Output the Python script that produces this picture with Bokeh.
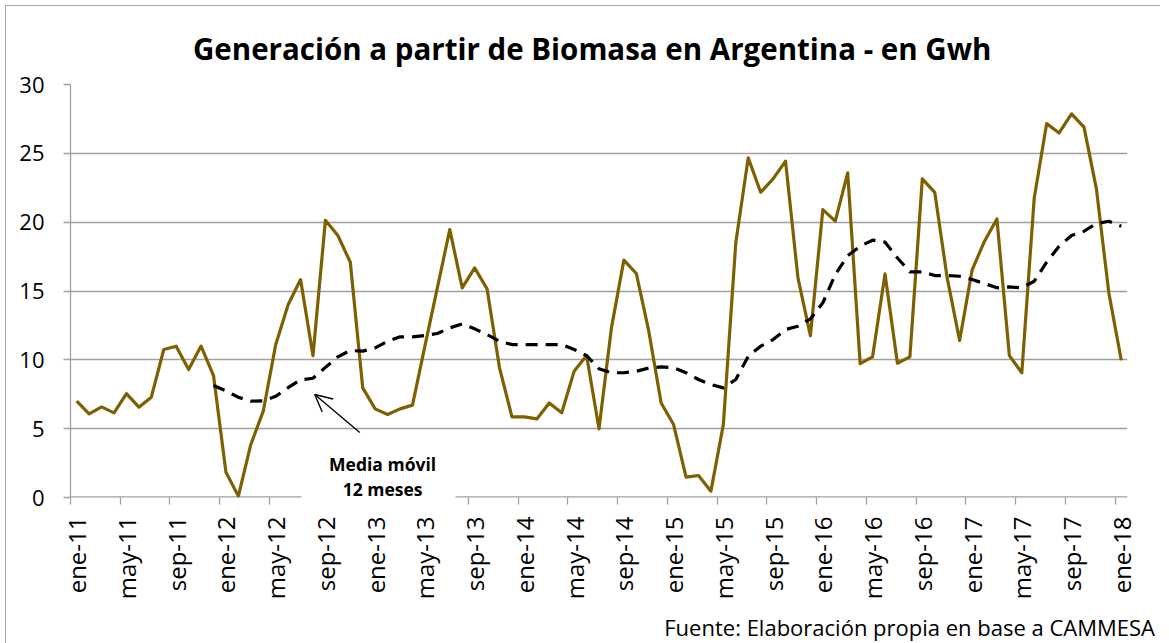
from bokeh.plotting import figure
from bokeh.models import FixedTicker, Label, Arrow, OpenHead, ColumnDataSource, Title
from bokeh.embed import file_html
from bokeh.resources import INLINE

# ---------------- data ----------------
months = list(range(85))  # ene-11 ... ene-18, monthly index
generation = [
    7.0, 6.08, 6.58, 6.15, 7.55, 6.56, 7.29, 10.75, 10.99, 9.3, 11.0, 8.86,
    1.84, 0.1, 3.85, 6.27, 11.1, 14.0, 15.83, 10.3, 20.14, 19.03, 17.09, 7.96,
    6.44, 6.03, 6.44, 6.71, 10.99, 15.23, 19.46, 15.23, 16.68, 15.15, 9.42, 5.86,
    5.86, 5.71, 6.87, 6.15, 9.17, 10.31, 4.99, 12.32, 17.24, 16.27, 12.1, 6.87,
    5.3, 1.48, 1.6, 0.46, 5.3, 18.5, 24.67, 22.17, 23.14, 24.43, 15.95, 11.76,
    20.91, 20.07, 23.58, 9.73, 10.22, 16.24, 9.75, 10.22, 23.14, 22.17, 15.95, 11.4,
    16.51, 18.62, 20.23, 10.31, 9.06, 21.76, 27.16, 26.48, 27.86, 26.9, 22.42, 14.86,
    9.97,
]
ma_months = list(range(11, 85))
moving_avg = [
    8.13, 7.74, 7.28, 7.0, 7.02, 7.35, 7.98, 8.55, 8.66, 9.45, 10.22, 10.68,
    10.63, 10.87, 11.35, 11.67, 11.67, 11.76, 11.91, 12.32, 12.61, 12.25, 11.84, 11.35,
    11.11, 11.11, 11.11, 11.11, 11.11, 10.75, 10.31, 9.35, 9.06, 9.06, 9.17, 9.4,
    9.49, 9.42, 9.06, 8.57, 8.2, 7.96, 8.57, 10.26, 10.99, 11.47, 12.2, 12.44,
    12.97, 14.14, 16.19, 17.57, 18.25, 18.69, 18.55, 17.4, 16.39, 16.39, 16.12, 16.12,
    16.07, 15.83, 15.54, 15.23, 15.3, 15.23, 15.71, 17.09, 18.25, 19.03, 19.34, 19.9,
    20.07, 19.7,
]
tick_positions = list(range(0, 85, 4))
tick_labels = [
    "ene-11", "may-11", "sep-11", "ene-12", "may-12", "sep-12", "ene-13", "may-13",
    "sep-13", "ene-14", "may-14", "sep-14", "ene-15", "may-15", "sep-15", "ene-16",
    "may-16", "sep-16", "ene-17", "may-17", "sep-17", "ene-18",
]
y_ticks = [0, 5, 10, 15, 20, 25, 30]

TITLE = "Generación a partir de Biomasa en Argentina - en Gwh"
SOURCE = "Fuente: Elaboración propia en base a CAMMESA"
NOTE1 = "Media móvil"
NOTE2 = "12 meses"

GRID = "#a0a0a0"
LINE = "#7f6000"
FONT = "Open Sans"

# ---------------- figure ----------------
p = figure(
    frame_width=1057, frame_height=413,
    min_border_left=64, min_border_right=33, min_border_top=78, min_border_bottom=144,
    x_range=(-0.5, 84.5), y_range=(0, 30),
    output_backend="svg", toolbar_location=None,
)
p.styles = {"margin-left": "5px", "margin-top": "5px",
            "border-left": "1.5px solid #a6a6a6", "border-top": "1.5px solid #a6a6a6"}
p.background_fill_color = "white"
p.border_fill_color = "white"
p.outline_line_color = None

# title
p.title.text = TITLE
p.title.align = "left"
p.title.offset = 122.5
p.title.standoff = 32
p.title.text_font = FONT
p.title.text_font_style = "bold"
p.title.text_font_size = "29.5px"
p.title.text_color = "#000000"

# source
p.add_layout(Title(text=SOURCE, align="right", offset=-27.5, standoff=14,
                   text_font=FONT, text_font_style="normal", text_font_size="22px",
                   text_color="#000000"), "below")

# gridlines
p.xgrid.visible = False
p.ygrid.ticker = FixedTicker(ticks=y_ticks[1:])
p.ygrid.grid_line_color = GRID
p.ygrid.grid_line_width = 1.3

# y axis
p.yaxis.ticker = FixedTicker(ticks=y_ticks)
p.yaxis.axis_line_color = GRID
p.yaxis.axis_line_width = 1.3
p.yaxis.major_tick_line_color = GRID
p.yaxis.major_tick_line_width = 1.3
p.yaxis.major_tick_out = 7
p.yaxis.major_tick_in = 0
p.yaxis.minor_tick_line_color = None
p.yaxis.major_label_standoff = 19
p.yaxis.major_label_text_font = FONT
p.yaxis.major_label_text_font_size = "22px"
p.yaxis.major_label_text_color = "#000000"

# x axis: labels at every 4th month, tick marks at category boundaries
gap_months = (19.5, 23.5, 27.5)  # tick marks hidden behind the note
boundaries = [b - 0.5 for b in range(0, 85, 4) if (b - 0.5) not in gap_months]
p.xaxis.ticker = FixedTicker(ticks=tick_positions, minor_ticks=boundaries)
p.xaxis.major_label_overrides = {t: l for t, l in zip(tick_positions, tick_labels)}
p.xaxis.major_label_orientation = 3.14159265 / 2
p.xaxis.major_tick_line_color = None
p.xaxis.major_tick_out = 0
p.xaxis.major_tick_in = 0
p.xaxis.minor_tick_line_color = GRID
p.xaxis.minor_tick_line_width = 1.3
p.xaxis.minor_tick_out = 7
p.xaxis.minor_tick_in = 0
p.xaxis.axis_line_color = None
p.xaxis.major_label_standoff = 12
p.xaxis.major_label_text_font = FONT
p.xaxis.major_label_text_font_size = "24px"
p.xaxis.major_label_text_color = "#000000"

# horizontal axis line, interrupted behind the note
p.segment(x0=[-0.5, 30.45], y0=[0, 0], x1=[18.07, 84.5], y1=[0, 0],
          line_color=GRID, line_width=2.6)

# series
src = ColumnDataSource(dict(x=months, y=generation))
p.line("x", "y", source=src, line_color=LINE, line_width=3.2, line_join="round")
ma_src = ColumnDataSource(dict(x=ma_months, y=moving_avg))
p.line("x", "y", source=ma_src, line_color="black", line_width=3.2,
       line_dash="12 8", line_join="round")

# note with arrow
p.add_layout(Arrow(end=OpenHead(size=17, line_color="black", line_width=1.4),
                   x_start=22.76, y_start=4.72, x_end=19.14, y_end=7.48,
                   line_color="black", line_width=1.4))
for txt, yy in ((NOTE1, 2.4), (NOTE2, 0.65)):
    p.add_layout(Label(x=24.6, y=yy, text=txt, text_align="center",
                       text_baseline="alphabetic", text_font=FONT,
                       text_font_style="bold", text_font_size="17.5px",
                       text_color="#000000"))

open("out.html", "w").write(file_html(p, INLINE))
